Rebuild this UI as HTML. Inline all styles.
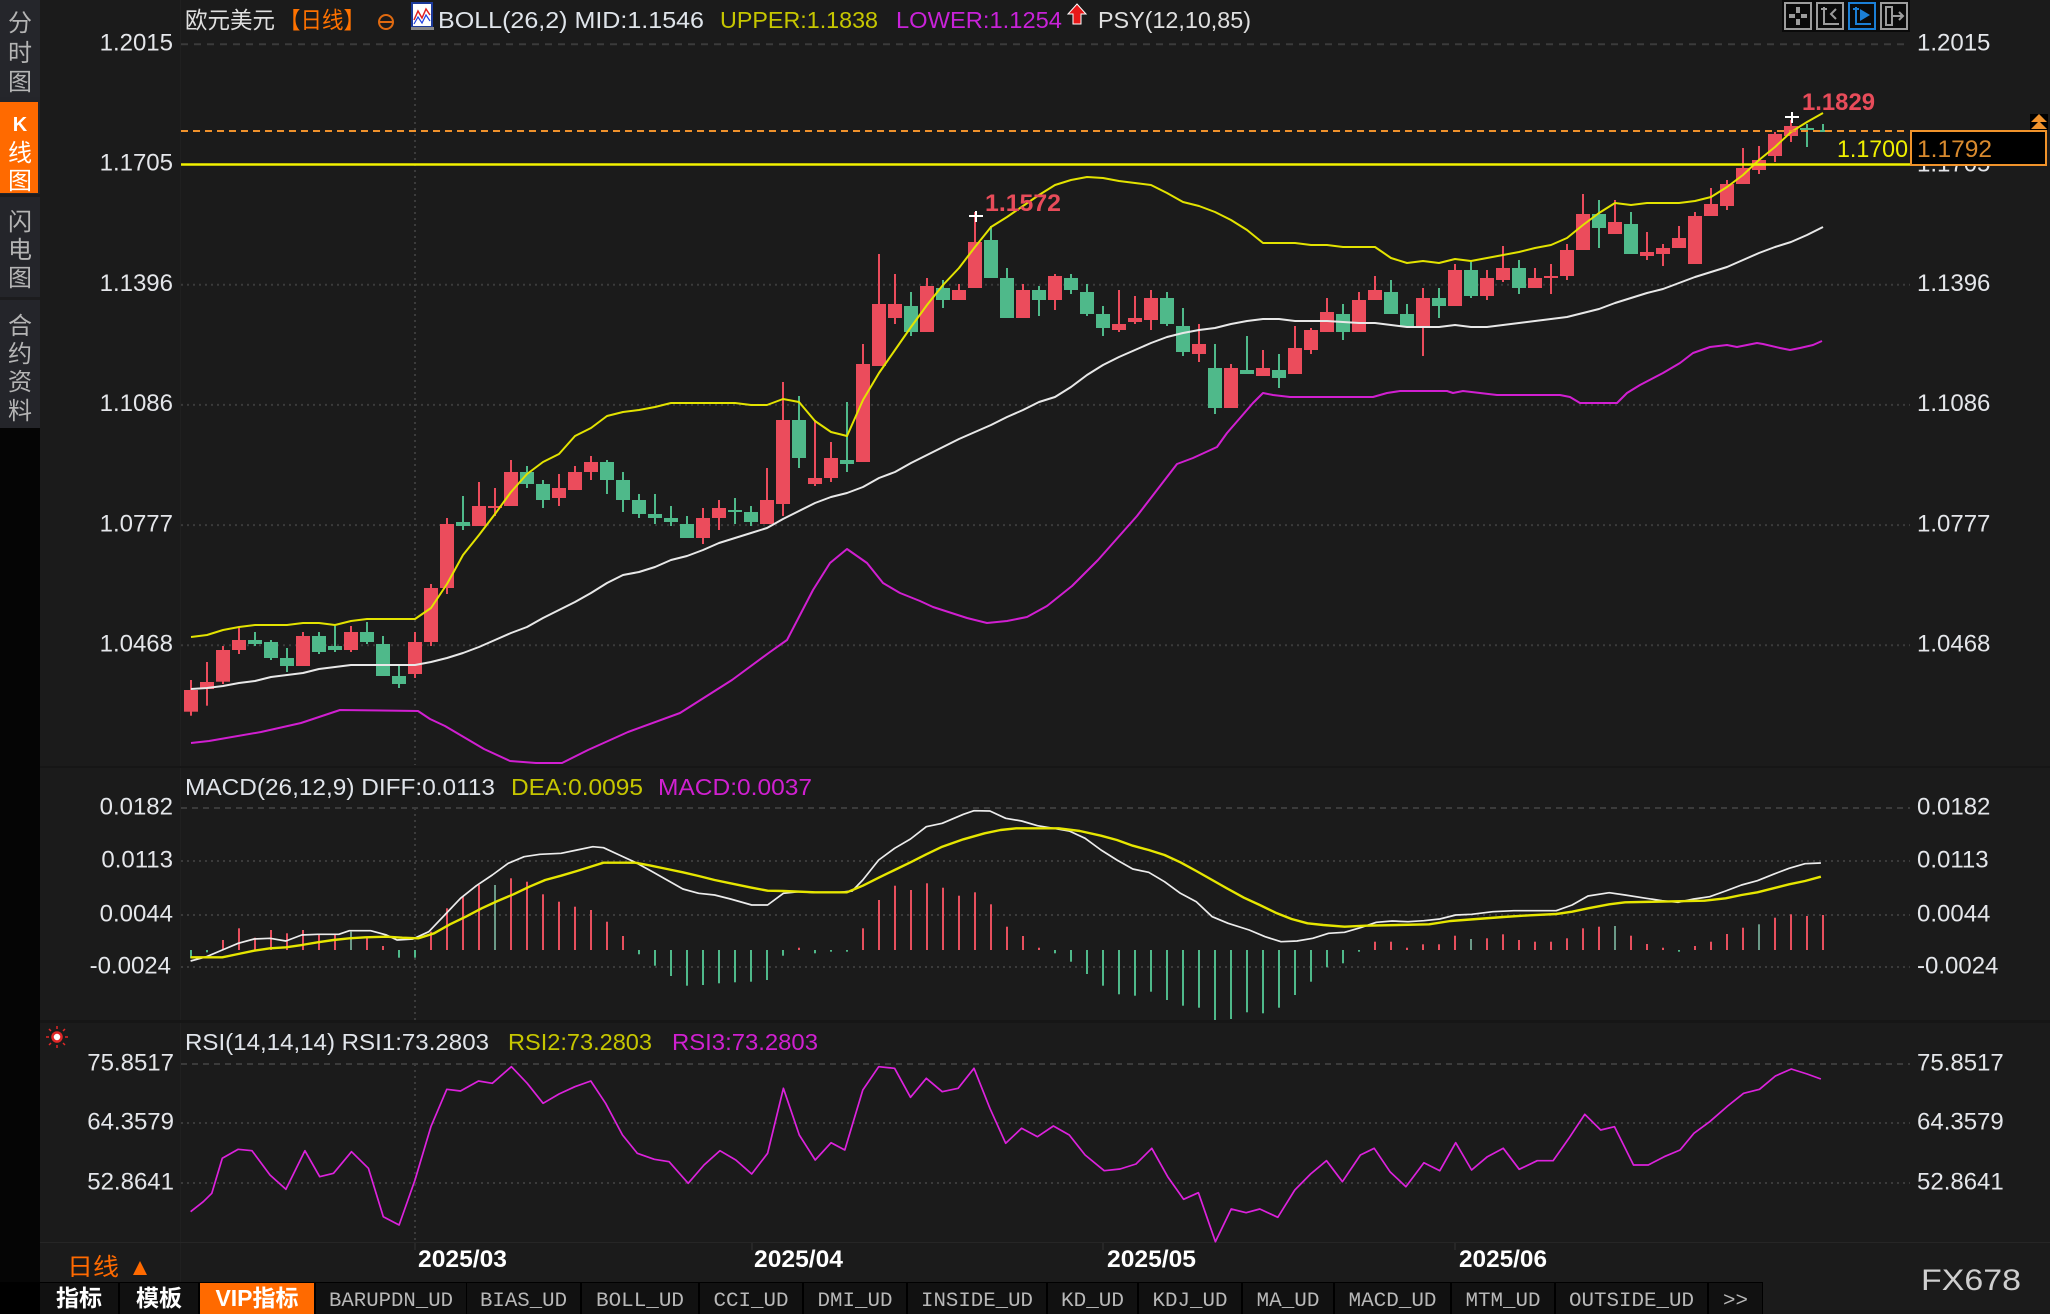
<!DOCTYPE html>
<html><head><meta charset="utf-8">
<style>
html,body{margin:0;padding:0;background:#1b1b1b;width:2050px;height:1314px;overflow:hidden}
svg{display:block}
text{font-family:"Liberation Sans","Noto Sans CJK SC",sans-serif}
.ax{font-size:24px;fill:#e4e6ea}
.cj{font-family:"Liberation Sans","Noto Sans CJK SC",sans-serif}
.tab{font-family:"Liberation Mono","Noto Sans CJK SC",monospace;font-size:20px;fill:#b8b8b8}
</style></head><body>
<svg id="s" xmlns="http://www.w3.org/2000/svg" width="2050" height="1314" viewBox="0 0 2050 1314">
<rect width="2050" height="1314" fill="#1b1b1b"/>

<!-- left sidebar -->
<rect x="0" y="0" width="40" height="1314" fill="#24252a"/>
<rect x="0" y="0" width="40" height="97" fill="#25262b"/>
<rect x="0" y="102" width="38" height="91" fill="#ff6a00"/>
<rect x="0" y="194" width="40" height="3" fill="#1c1c1e"/>
<rect x="0" y="297" width="40" height="3" fill="#1c1c1e"/>
<rect x="0" y="428" width="40" height="886" fill="#050505"/>
<g class="cj" font-size="24" fill="#b4b4b4" text-anchor="middle">
<text x="20" y="31">分</text><text x="20" y="61">时</text><text x="20" y="90">图</text>
<text x="20" y="131" fill="#ffffff" font-size="20" font-family="Liberation Mono,monospace" font-weight="bold">K</text>
<text x="20" y="161" fill="#ffffff">线</text><text x="20" y="189" fill="#ffffff">图</text>
<text x="20" y="230">闪</text><text x="20" y="258">电</text><text x="20" y="286">图</text>
<text x="20" y="334">合</text><text x="20" y="362">约</text><text x="20" y="390">资</text><text x="20" y="419">料</text>
</g>
<line x1="180.5" y1="0" x2="180.5" y2="1282" stroke="#202020" stroke-width="1"/>

<!-- gridlines -->
<g stroke="#3b3b3b" stroke-width="2" stroke-dasharray="2 4" fill="none">
<line x1="181" y1="44.3" x2="1910" y2="44.3" stroke-dasharray="7 6"/>
<line x1="181" y1="164.5" x2="1910" y2="164.5"/>
<line x1="181" y1="284.7" x2="1910" y2="284.7"/>
<line x1="181" y1="404.9" x2="1910" y2="404.9"/>
<line x1="181" y1="525.1" x2="1910" y2="525.1"/>
<line x1="181" y1="645.3" x2="1910" y2="645.3"/>
<line x1="181" y1="808" x2="1910" y2="808" stroke-dasharray="6 5"/>
<line x1="181" y1="861" x2="1910" y2="861"/>
<line x1="181" y1="915" x2="1910" y2="915"/>
<line x1="181" y1="967" x2="1910" y2="967"/>
<line x1="181" y1="1064" x2="1910" y2="1064" stroke-dasharray="6 5"/>
<line x1="181" y1="1123" x2="1910" y2="1123"/>
<line x1="181" y1="1183" x2="1910" y2="1183"/>
<line x1="415" y1="44" x2="415" y2="765"/>
<line x1="415" y1="808" x2="415" y2="1020"/>
<line x1="415" y1="1064" x2="415" y2="1242"/>
</g>
<rect x="40" y="766" width="2010" height="2" fill="#161616"/>
<rect x="40" y="1020" width="2010" height="3" fill="#161616"/>
<rect x="40" y="1242" width="2010" height="1" fill="#262626"/>
<g stroke="#333" stroke-width="1"><line x1="415" y1="1243" x2="415" y2="1250"/><line x1="752" y1="1243" x2="752" y2="1250"/><line x1="1103" y1="1243" x2="1103" y2="1250"/><line x1="1455" y1="1243" x2="1455" y2="1250"/></g>

<g id="candles"></g>
<g id="bands"></g>
<g id="macd"></g>
<g id="rsi"></g>

<!-- price lines -->
<line x1="181" y1="131" x2="1906" y2="131" stroke="#f0922c" stroke-width="2" stroke-dasharray="7 5"/>
<line x1="181" y1="164.5" x2="1911" y2="164.5" stroke="#f2f200" stroke-width="2.5"/>

<!-- peak markers -->
<g stroke="#ffffff" stroke-width="2"><line x1="969" y1="216" x2="983" y2="216"/><line x1="976" y1="211" x2="976" y2="222"/>
<line x1="1785" y1="117" x2="1799" y2="117"/><line x1="1792" y1="112" x2="1792" y2="123"/></g>
<text x="985" y="211" font-size="24" font-weight="bold" fill="#e84c5a" textLength="76" lengthAdjust="spacingAndGlyphs">1.1572</text>
<text x="1802" y="110" font-size="24" font-weight="bold" fill="#e84c5a" textLength="73" lengthAdjust="spacingAndGlyphs">1.1829</text>

<!-- left axis labels -->
<g class="ax" text-anchor="end">
<text x="173" y="50.5">1.2015</text><text x="173" y="170.5">1.1705</text><text x="173" y="291">1.1396</text>
<text x="173" y="411">1.1086</text><text x="173" y="531.5">1.0777</text><text x="173" y="651.5">1.0468</text>
<text x="173" y="814.5">0.0182</text><text x="173" y="867.5">0.0113</text><text x="173" y="921.5">0.0044</text><text x="171" y="973.5">-0.0024</text>
<text x="174" y="1070.5">75.8517</text><text x="174" y="1129.5">64.3579</text><text x="174" y="1189.5">52.8641</text>
</g>
<!-- right axis labels -->
<g class="ax">
<text x="1917" y="50.5">1.2015</text><text x="1917" y="171.5">1.1705</text><text x="1917" y="291">1.1396</text>
<text x="1917" y="411">1.1086</text><text x="1917" y="531.5">1.0777</text><text x="1917" y="651.5">1.0468</text>
<text x="1917" y="814.5">0.0182</text><text x="1917" y="867.5">0.0113</text><text x="1917" y="921.5">0.0044</text><text x="1917" y="973.5">-0.0024</text>
<text x="1917" y="1070.5">75.8517</text><text x="1917" y="1129.5">64.3579</text><text x="1917" y="1189.5">52.8641</text>
</g>

<!-- current price box -->
<text x="1908" y="157" font-size="24" fill="#f0f000" text-anchor="end" textLength="71" lengthAdjust="spacingAndGlyphs">1.1700</text>
<rect x="1911" y="131" width="135" height="34" fill="#000" stroke="#f0932b" stroke-width="2"/>
<text x="1917" y="157" font-size="24" fill="#d98a2e" textLength="75" lengthAdjust="spacingAndGlyphs">1.1792</text>
<rect x="2030" y="114" width="18" height="16" fill="#000"/>
<polygon points="2031,122 2039,114 2047,122" fill="#f0922c"/>
<polygon points="2031,129 2039,121 2047,129" fill="#f0922c"/>

<!-- header -->
<text x="185" y="28" font-size="23" fill="#e0e0e0" textLength="90" lengthAdjust="spacingAndGlyphs">欧元美元</text>
<text x="279" y="28" font-size="23" fill="#ff7200" textLength="86" lengthAdjust="spacingAndGlyphs">【日线】</text>
<circle cx="386" cy="22" r="7" fill="none" stroke="#e06a10" stroke-width="2"/>
<line x1="379" y1="22" x2="393" y2="22" stroke="#e06a10" stroke-width="2"/>
<rect x="412" y="3" width="20" height="24" fill="#ffffff" stroke="#1c3a9a" stroke-width="2"/>
<polyline points="414,20 418,11 422,18 426,9 430,15" fill="none" stroke="#e02020" stroke-width="1.5"/>
<polyline points="414,24 418,17 422,23 426,15 430,21" fill="none" stroke="#2040e0" stroke-width="1.2"/>
<rect x="411" y="27" width="23" height="3" fill="#888"/>
<text x="438" y="28" font-size="23" fill="#dfe4ea" textLength="266" lengthAdjust="spacingAndGlyphs">BOLL(26,2) MID:1.1546</text>
<text x="720" y="28" font-size="23" fill="#c6c600" textLength="158" lengthAdjust="spacingAndGlyphs">UPPER:1.1838</text>
<text x="896" y="28" font-size="23" fill="#c822d8" textLength="166" lengthAdjust="spacingAndGlyphs">LOWER:1.1254</text>
<polygon points="1077,4 1086,14 1081,14 1081,24 1073,24 1073,14 1068,14" fill="#e81818" stroke="#ffffff" stroke-width="1"/>
<text x="1098" y="28" font-size="23" fill="#e0e0e0" textLength="153" lengthAdjust="spacingAndGlyphs">PSY(12,10,85)</text>

<!-- toolbar -->
<rect x="1782" y="0" width="128" height="32" fill="#0a0a0a"/>
<g fill="none" stroke-width="2">
<rect x="1785" y="3" width="26" height="26" stroke="#9c9c9c"/>
<rect x="1817" y="3" width="26" height="26" stroke="#9c9c9c"/>
<rect x="1849" y="3" width="26" height="26" stroke="#1b7fd6"/>
<rect x="1881" y="3" width="26" height="26" stroke="#9c9c9c"/>
</g>
<g fill="#9c9c9c"><rect x="1796" y="7" width="4" height="6"/><rect x="1796" y="19" width="4" height="6"/><rect x="1789" y="14" width="6" height="4"/><rect x="1801" y="14" width="6" height="4"/></g>
<g stroke="#9c9c9c" stroke-width="2" fill="none"><polyline points="1824,7 1824,24 1839,24"/><line x1="1821" y1="9" x2="1827" y2="9"/><polyline points="1836,9 1831,14 1836,19"/></g>
<g stroke="#1b7fd6" stroke-width="2" fill="none"><polyline points="1856,7 1856,24 1871,24"/><line x1="1853" y1="9" x2="1859" y2="9"/></g>
<polygon points="1860,9 1870,15 1860,21" fill="#1b7fd6"/>
<g stroke="#9c9c9c" stroke-width="2" fill="none"><rect x="1886" y="7" width="6" height="18"/><line x1="1893" y1="16" x2="1903" y2="16"/><polyline points="1899,12 1903,16 1899,20"/></g>

<!-- MACD header -->
<text x="185" y="795" font-size="23" fill="#e0e4ea" textLength="310" lengthAdjust="spacingAndGlyphs">MACD(26,12,9) DIFF:0.0113</text>
<text x="511" y="795" font-size="23" fill="#c6c600" textLength="132" lengthAdjust="spacingAndGlyphs">DEA:0.0095</text>
<text x="658" y="795" font-size="23" fill="#d020d0" textLength="154" lengthAdjust="spacingAndGlyphs">MACD:0.0037</text>

<!-- RSI header -->
<g>
<circle cx="57" cy="1037" r="4.5" fill="#fff" stroke="#e02828" stroke-width="2.5"/>
<g stroke="#e02828" stroke-width="1.5"><line x1="57" y1="1026" x2="57" y2="1029"/><line x1="57" y1="1045" x2="57" y2="1048"/><line x1="46" y1="1037" x2="49" y2="1037"/><line x1="65" y1="1037" x2="68" y2="1037"/><line x1="49" y1="1029" x2="51" y2="1031"/><line x1="63" y1="1043" x2="65" y2="1045"/><line x1="65" y1="1029" x2="63" y2="1031"/><line x1="49" y1="1045" x2="51" y2="1043"/></g>
</g>
<text x="185" y="1050" font-size="23" fill="#e0e4ea" textLength="304" lengthAdjust="spacingAndGlyphs">RSI(14,14,14) RSI1:73.2803</text>
<text x="508" y="1050" font-size="23" fill="#c6c600" textLength="144" lengthAdjust="spacingAndGlyphs">RSI2:73.2803</text>
<text x="672" y="1050" font-size="23" fill="#d020d0" textLength="146" lengthAdjust="spacingAndGlyphs">RSI3:73.2803</text>

<!-- date row -->
<g font-size="24" font-weight="bold" fill="#ffffff">
<text x="418" y="1267" textLength="89" lengthAdjust="spacingAndGlyphs">2025/03</text>
<text x="754" y="1267" textLength="89" lengthAdjust="spacingAndGlyphs">2025/04</text>
<text x="1107" y="1267" textLength="89" lengthAdjust="spacingAndGlyphs">2025/05</text>
<text x="1459" y="1267" textLength="88" lengthAdjust="spacingAndGlyphs">2025/06</text>
</g>
<text x="67" y="1275" font-size="24" fill="#ff6a00" textLength="52" lengthAdjust="spacingAndGlyphs">日线</text>
<polygon points="133,1275 140,1261 147,1275" fill="#ff6a00"/>

<!-- tab bar -->
<rect x="0" y="1282" width="1763" height="32" fill="#000"/>
<g id="tabs"></g>
<text x="1921" y="1290" font-size="30" fill="#cfcfcf" font-family="Liberation Mono,monospace" textLength="100" lengthAdjust="spacingAndGlyphs">FX678</text>
</svg>
<script>
(function(){
var NS="http://www.w3.org/2000/svg";
function E(p,t,a){var e=document.createElementNS(NS,t);for(var k in a)e.setAttribute(k,a[k]);p.appendChild(e);return e;}
function X(i){return 191+16*i;}
var gC=document.getElementById("candles"),gB=document.getElementById("bands"),gM=document.getElementById("macd"),gR=document.getElementById("rsi"),gT=document.getElementById("tabs");
var RED="#eb4c5c",GRN="#4fb98a";
var segs=[[380,[[0,900,930,995,1007],[0,846,906,927,977],[0,798,810,905,912],[0,743,780,810,822],[1,756,780,792,798],[1,780,786,834,840],[1,804,834,858,876],[0,756,768,858,858],[1,756,768,816,822],[1,738,798,810,816],[0,738,756,810,816],[1,726,756,786,792],[1,768,792,888,888],[1,858,888,912,924],[0,756,786,882,894],[0,612,624,786,798],[0,414,432,624,642],[1,348,426,438,450],[0,306,378,438,438],[0,324,378,384,408],[0,240,276,378,378],[1,258,276,312,324],[1,300,312,360,384],[0,282,324,354,378],[0,258,276,330,330],[0,228,246,276,300],[1,240,246,300,342],[1,276,300,360,396]]],
[180,[[1,942,960,1002,1014],[1,942,1002,1014,1032],[1,978,1014,1026,1038],[1,1008,1032,1074,1074],[0,984,1014,1074,1092],[0,960,984,1014,1050],[1,954,990,996,1032],[1,978,996,1026,1038],[0,864,960,1032,1032],[0,606,720,972,1008],[1,648,720,834,864],[0,720,894,912,918],[0,786,834,894,906],[1,666,840,852,876],[0,492,552,846,846],[0,222,372,558,558],[0,282,372,414,432],[1,336,378,456,468],[0,294,318,456,456],[1,300,324,360,384],[0,312,330,360,360],[0,96,186,324,324],[1,138,180,294,294],[1,264,294,414,414],[0,312,330,414,414],[1,318,330,360,408]]],
[160,[[0,342,348,420,450],[1,342,354,390,402],[1,372,396,462,468],[1,438,462,504,528],[0,390,492,510,516],[0,408,474,486,492],[0,390,414,480,510],[1,396,414,492,498],[1,444,498,576,588],[0,492,552,582,606],[1,552,624,744,762],[0,612,624,744,744],[1,528,630,642,642],[0,570,624,648,648],[1,582,630,654,684],[0,498,564,642,642],[0,504,510,570,582],[0,414,456,516,516],[1,432,462,516,540],[0,396,420,516,516],[0,348,390,420,420]]],
[120,[[1,480,516,582,582],[1,552,582,618,618],[0,504,534,618,708],[1,504,534,558,594],[0,432,450,558,558],[1,426,450,528,534],[0,450,474,528,540],[0,378,444,480,486],[1,420,444,504,522],[0,444,474,504,504],[0,432,468,474,522],[0,372,390,468,480],[0,222,282,390,390],[1,240,282,324,384],[0,240,306,342,342],[1,276,312,402,402],[0,336,396,408,420],[0,372,384,402,438],[0,318,354,384,384],[0,276,288,432,432],[0,204,252,288,288],[0,180,192,258,270],[0,84,144,192,192],[0,78,120,150,162],[0,36,42,108,126],[0,0,18,48,66],[1,12,24,30,81],[1,12,30,33,33]]]];
var i=0;
segs.forEach(function(s){var y0=s[0];s[1].forEach(function(c){
 var col=c[0]?GRN:RED,x=X(i);
 var wt=y0+c[1]/3,bt=y0+c[2]/3,bb=y0+c[3]/3,wb=y0+c[4]/3;
 if(wb-wt>0.5)E(gC,"rect",{x:x-1,y:wt.toFixed(1),width:2,height:(wb-wt).toFixed(1),fill:col});
 var h=Math.max(2,bb-bt);
 E(gC,"rect",{x:x-7,y:bt.toFixed(1),width:14,height:h.toFixed(1),fill:col});
 i++;});});
function pl(p,pts,col,w){E(p,"polyline",{points:pts.map(function(q){return q[0].toFixed(1)+","+q[1].toFixed(1);}).join(" "),fill:"none",stroke:col,"stroke-width":w,"stroke-linejoin":"round"});}
function pairs(a){var r=[];for(var k=0;k<a.length;k+=2)r.push([a[k],a[k+1]]);return r;}
var U=[637,635,630,627,625,625,625,623,623,625,621,619,619,619,619,608,584,555,535,514,492,474,462,454,436,428,416,412,
410,407,403,403,403,403,403,405,405,399,402,421,432,436,400,373,350,327,305,285,268,247,227,217,206,195,185,
180,177,178,181,183,185,193,202,206,212,220,230,243,243,243,245,245,247,247,247,
258,263,261,263,259,261,258,255,252,248,245,238,225,213,203,205,203,203,203,201,197,187,175,160,147,132,122,113];
var M=[689,688,686,683,681,677,675,673,669,667,665,665,665,665,665,662,658,653,647,640,633,627,618,610,602,593,583,575,
572,567,560,556,550,543,538,533,528,519,511,503,497,493,487,478,472,463,455,447,439,432,425,417,410,402,397,
387,375,365,357,350,343,337,333,330,328,324,321,319,319,321,321,321,322,323,323,
325,327,327,327,325,327,327,325,323,321,319,317,313,309,303,298,293,289,283,277,272,267,260,253,247,242,235,227];
var L=[191,743,209,741,261,732,301,723,340,710,418,711,430,719,445,726,484,749,510,761,536,763,562,763,588,750,628,732,680,713,732,680,770,652,787,640,813,590,830,563,847,549,867,563,883,583,900,593,920,601,933,607,967,618,987,623,1007,621,1027,617,1047,606,1072,586,1098,560,1137,516,1177,464,1193,458,1217,447,1227,433,1240,418,1253,403,1263,393,1273,395,1290,397,1373,397,1387,393,1400,391,1447,391,1453,393,1463,391,1480,393,1497,395,1560,395,1570,397,1580,403,1617,403,1627,393,1640,385,1663,373,1680,363,1693,353,1710,347,1727,345,1737,347,1747,345,1757,343,1763,344,1780,348,1790,350,1800,348,1813,345,1822,341];
pl(gB,pairs(L),"#d11fd1",2);
pl(gB,M.map(function(v,k){return [X(k),v];}),"#e8e8e8",2);
pl(gB,U.map(function(v,k){return [X(k),v];}),"#e3e300",2);
/* MACD */
var HB=[580,562,525,490,518,495,505,495,510,510,500,520,543,578,578,500,430,395,360,360,340,350,388,410,425,435,470,513,568,602,633,662,660,655,652,650,645,572,548,565,560,560,490,405,362,375,355,368,392,382,418,485,513,548,565,590,627,662,688,692,680,705,722,728,765,762,742,745,728,690,650,607,595,560,530,530,548,538,538,512,522,520,508,525,530,530,520,490,485,483,512,537,548,560,543,530,507,488,478,458,448,453,450];
var gray={10:1,19:1,80:1,89:1,98:1};
HB.forEach(function(v,k){var y=765+v/3,x=X(k)-1;
 if(v>555){E(gM,"rect",{x:x,y:950,width:2,height:(y-950).toFixed(1),fill:"#4fb98a"});}
 else{E(gM,"rect",{x:x,y:y.toFixed(1),width:2,height:(950-y).toFixed(1),fill:gray[k]?"#6b9a88":"#e8505e"});}});
function zm(a,y0){return pairs(a).map(function(q){return [180+q[0]/0.9446,y0+q[1]/3];});}
var DIFF=[10,588,25,575,40,555,55,535,70,522,85,520,100,528,115,510,130,508,150,508,160,497,180,497,195,510,205,525,220,522,235,500,250,450,265,400,280,362,295,330,310,295,325,275,340,268,360,265,375,255,390,245,400,248,415,270,430,292,445,318,460,345,475,372,490,385,505,390,520,402,540,420,555,420,570,385,585,380,600,383,620,383,635,378,645,345,660,285,675,250,690,222,705,185,720,175,740,148,750,137,765,138,780,160,795,168,810,182,825,190,840,198,855,220,870,255,885,285,900,312,915,322,930,350,945,385,960,410,975,455,990,475,1010,495,1025,515,1040,530,1055,528,1070,520,1085,505,1100,502,1115,488,1130,472,1145,468,1160,470,1175,467,1190,462,1205,450,1220,448,1240,440,1260,437,1280,437,1300,437,1315,420,1330,393,1350,383,1365,390,1385,400,1400,407,1415,412,1430,402,1445,395,1460,378,1475,360,1490,347,1505,328,1520,310,1535,296,1550,294];
var DEA=[10,577,25,577,40,577,55,567,70,557,85,550,100,547,115,540,130,532,145,525,160,520,175,517,195,515,210,518,225,520,240,505,255,478,270,455,285,430,300,408,315,388,330,365,345,345,360,332,375,318,390,303,400,293,430,293,445,302,460,312,475,322,490,333,505,345,520,355,540,368,555,377,570,378,600,382,630,382,645,362,660,338,675,315,690,292,705,268,720,245,740,223,760,205,775,195,790,190,830,190,850,198,870,212,885,225,900,242,915,255,930,270,945,292,960,318,975,345,990,372,1005,398,1020,420,1035,443,1050,462,1065,475,1080,480,1100,485,1120,482,1180,478,1200,468,1225,462,1250,456,1275,451,1300,447,1315,440,1330,430,1350,418,1365,412,1440,407,1460,400,1475,390,1490,382,1505,370,1520,358,1535,348,1550,335];
pl(gM,zm(DIFF,765),"#ececec",1.7);
pl(gM,zm(DEA,765),"#e6e600",2.4);
/* RSI */
var RSI=[10,575,22,545,30,520,40,415,55,388,68,392,85,465,100,508,118,392,132,470,145,460,162,395,178,445,192,590,207,615,222,480,237,320,252,208,265,213,282,183,295,190,313,140,328,190,343,250,358,222,373,200,388,183,402,250,418,345,432,400,448,418,462,425,480,490,495,435,510,392,525,420,540,462,555,400,570,205,585,345,600,420,615,368,628,390,645,210,660,140,675,145,690,232,705,175,720,215,735,205,750,145,765,265,780,370,795,325,810,350,825,318,840,345,855,405,873,452,888,447,903,432,918,385,933,470,948,538,962,518,978,665,993,567,1007,578,1020,567,1037,592,1053,510,1068,462,1083,422,1098,485,1115,405,1128,385,1143,455,1158,500,1175,428,1190,452,1205,368,1220,450,1235,410,1250,385,1265,448,1282,422,1297,422,1312,355,1327,283,1342,330,1355,320,1373,435,1387,435,1402,410,1417,390,1430,340,1445,305,1462,258,1477,220,1492,208,1507,168,1522,147,1537,162,1550,177];
pl(gR,zm(RSI,1020),"#dc22dc",1.7);
/* tabs */
var tabs=[[40,118,"指标",1],[120,198,"模板",1],[200,314,"VIP指标",2],[316,466,"BARUPDN_UD",0],[467,580,"BIAS_UD",0],[582,698,"BOLL_UD",0],[700,802,"CCI_UD",0],[804,906,"DMI_UD",0],[908,1046,"INSIDE_UD",0],[1048,1137,"KD_UD",0],[1139,1241,"KDJ_UD",0],[1243,1333,"MA_UD",0],[1335,1450,"MACD_UD",0],[1452,1554,"MTM_UD",0],[1556,1707,"OUTSIDE_UD",0],[1709,1762,">>",0]];
tabs.forEach(function(t){
 var w=t[1]-t[0];
 E(gT,"rect",{x:t[0],y:1283,width:w,height:31,fill:t[3]==2?"#ff6a00":"#111111"});
 var cx=(t[0]+t[1])/2;
 var a={x:cx,y:1306,"text-anchor":"middle"};
 if(t[3]==0){a["class"]="tab";var n=t[2].length;var tl=Math.min(w-26,n*12.5);a.textLength=tl.toFixed(0);a.lengthAdjust="spacingAndGlyphs";}
 else{a["font-size"]="23";a.fill="#ffffff";a["font-weight"]="bold";}
 var e=E(gT,"text",a);e.textContent=t[2];});
})();
</script>
</body></html>
